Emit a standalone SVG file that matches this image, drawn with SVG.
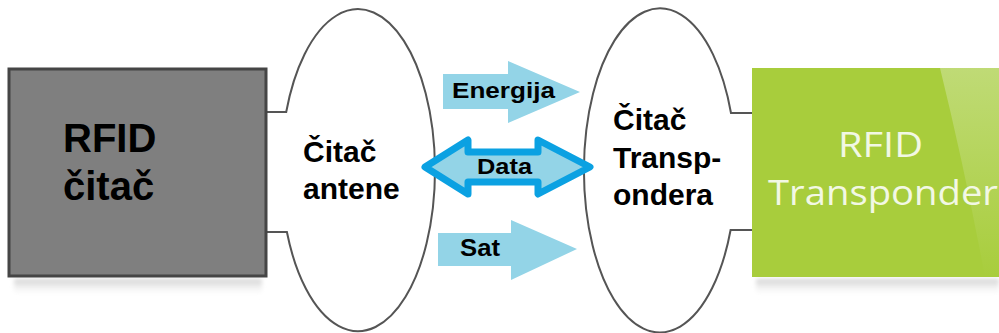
<svg xmlns="http://www.w3.org/2000/svg" width="999" height="333" viewBox="0 0 999 333">
<defs>
<linearGradient id="shadow" x1="0" y1="0" x2="0" y2="1">
<stop offset="0" stop-color="#cfcfcf"/>
<stop offset="1" stop-color="#ffffff" stop-opacity="0"/>
</linearGradient>
<linearGradient id="sheen" x1="0" y1="0" x2="0" y2="1">
<stop offset="0" stop-color="#c2dc7c"/>
<stop offset="1" stop-color="#a8cd3c"/>
</linearGradient>
<filter id="blur" x="-10%" y="-50%" width="120%" height="200%">
<feGaussianBlur stdDeviation="2"/>
</filter>
</defs>
<style>
.lbl{font-family:"Liberation Sans",Arial,sans-serif;font-weight:bold;fill:#000}
.big{font-size:40px}
.mid{font-size:30px}
.small{font-size:22px}
.wire{fill:none;stroke:#555;stroke-width:2}
.lightarrow{fill:#93d4e7}
.green{font-family:"Open Sans",sans-serif;font-size:35px;fill:#f2f8e4}
</style>
<rect width="999" height="333" fill="#fff"/>

<g id="connectors">
<path class="wire" d="M 266 112 H 286.2 A 77 161 0 1 1 286.9 232 H 266"/>
<path class="wire" d="M 752 113 H 731 A 76 162 0 1 0 730.6 230 H 752"/>
<g id="energija">
<polygon class="lightarrow" points="443,74 508,74 508,61 580,92 508,123 508,109 443,109"/>
<text class="lbl small" x="452" y="98" textLength="103" lengthAdjust="spacingAndGlyphs">Energija</text>
</g>
<g id="data">
<polygon points="425,167 468,140 468,152 538,152 538,140 590,167 538,194 538,182 468,182 468,194" fill="#93d4e7" stroke="#0ba1e2" stroke-width="7" stroke-linejoin="round"/>
<text class="lbl small" x="477" y="174" textLength="55" lengthAdjust="spacingAndGlyphs">Data</text>
</g>
<g id="sat">
<polygon class="lightarrow" points="438,233 511,233 511,220 577,249 511,280 511,266 438,266"/>
<text class="lbl" font-size="24" x="460" y="256" textLength="40" lengthAdjust="spacingAndGlyphs">Sat</text>
</g>
</g>

<g id="rfid-citac">
<rect x="14" y="279" width="248" height="18" fill="url(#shadow)" filter="url(#blur)"/>
<rect x="9" y="69" width="257" height="207" fill="#7f7f7f" stroke="#454545" stroke-width="3"/>
<text class="lbl big" x="63" y="152">RFID</text>
<text class="lbl big" x="63" y="200">čitač</text>
</g>

<g id="citac-antene">
<text class="lbl mid" x="303" y="162">Čitač</text>
<text class="lbl mid" x="303" y="199">antene</text>
</g>

<g id="citac-transpondera">
<text class="lbl mid" x="613" y="130">Čitač</text>
<text class="lbl mid" x="613" y="168">Transp-</text>
<text class="lbl mid" x="613" y="205">ondera</text>
</g>

<g id="rfid-transponder">
<rect x="756" y="279" width="243" height="18" fill="url(#shadow)" filter="url(#blur)"/>
<rect x="752" y="68" width="247" height="209" fill="#a8cd3c"/>
<path d="M 940 68 Q 965 170 985 277 H 999 V 68 Z" fill="url(#sheen)" opacity="0.9"/>
<text class="green" x="838" y="157" textLength="85" lengthAdjust="spacingAndGlyphs">RFID</text>
<text class="green" x="768" y="205" textLength="230" lengthAdjust="spacingAndGlyphs">Transponder</text>
</g>
</svg>
